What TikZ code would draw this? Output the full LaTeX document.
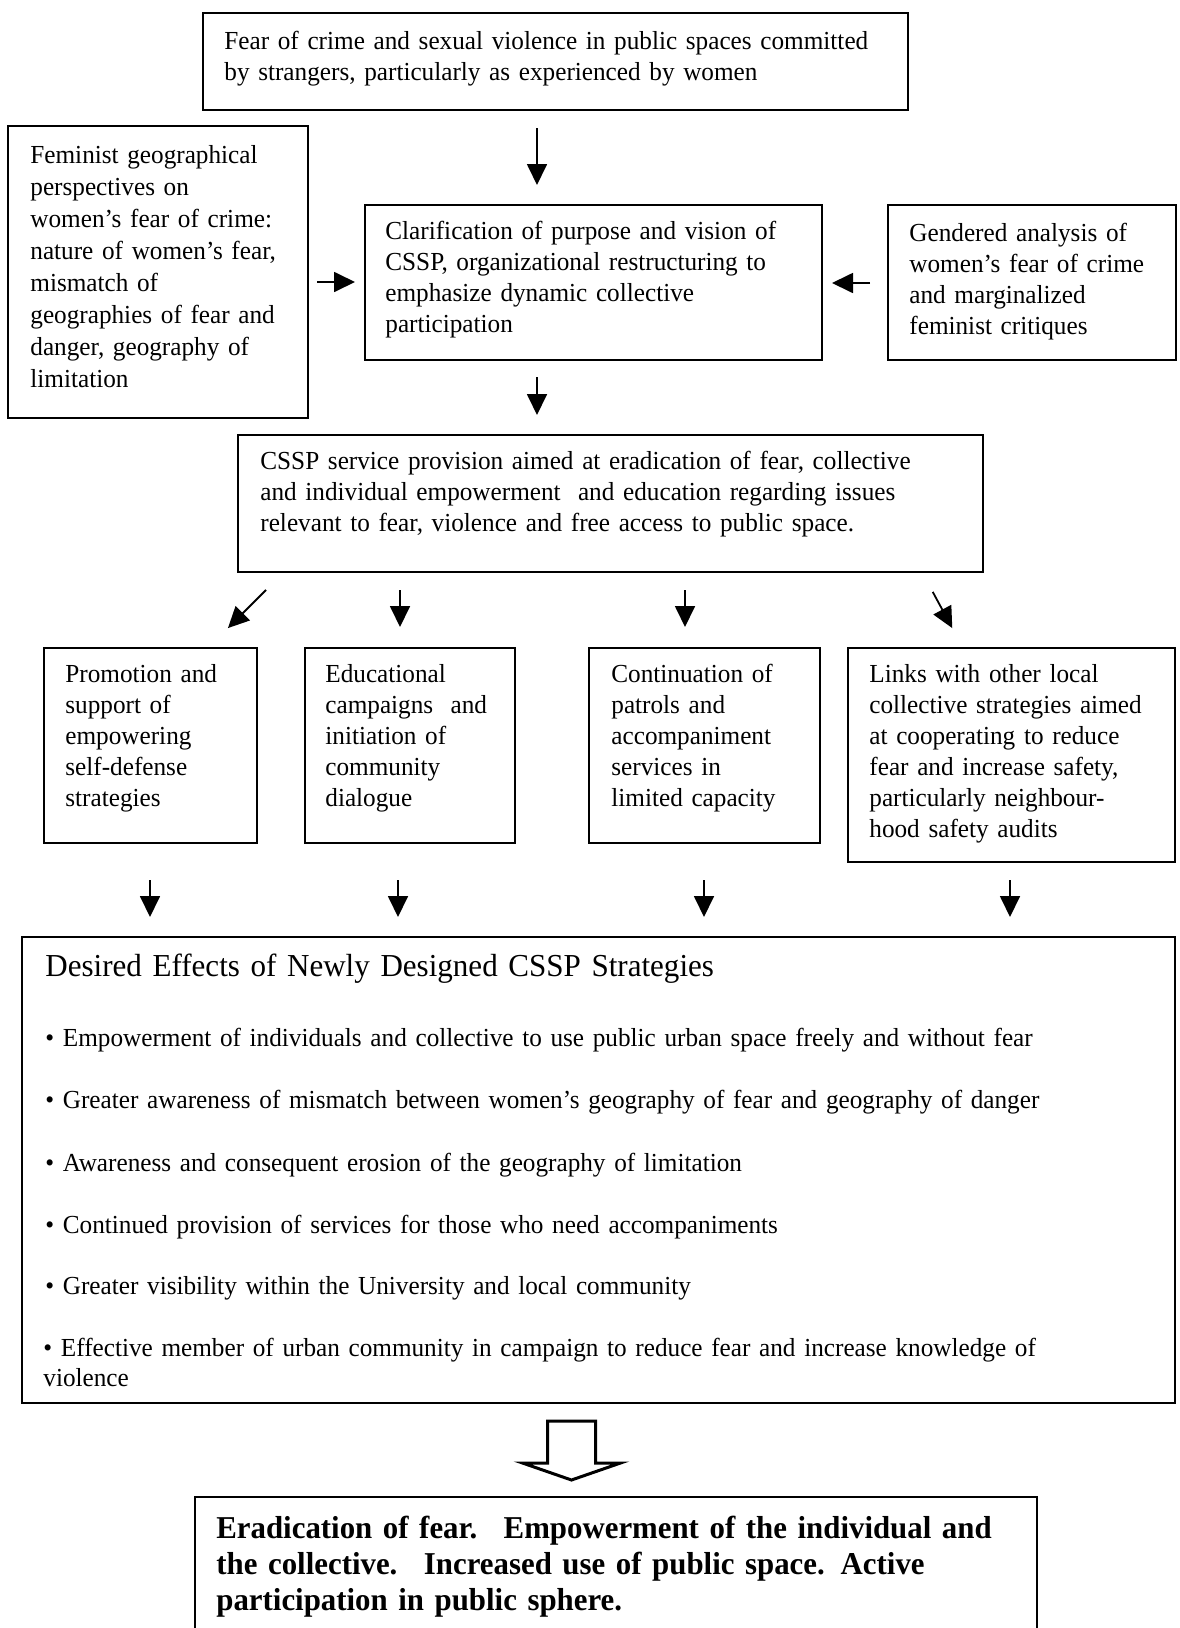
\documentclass[tikz,border=0pt]{standalone}
\usepackage{fontspec}
\setmainfont[FakeStretch=0.97]{Liberation Serif}
\usetikzlibrary{arrows.meta,fit}
\begin{document}
\begin{tikzpicture}[x=0.5pt,y=-0.5pt,
  box/.style={draw,line width=1.3pt,inner sep=0pt,outer sep=0pt},
  txt/.style={anchor=base west,inner sep=0pt,align=left,text width=560pt,
    font=\fontsize{13}{15.5}\selectfont},
  fem/.style={txt,font=\fontsize{13}{16}\selectfont},
  head/.style={txt,font=\fontsize{16}{18}\selectfont},
  bul/.style={txt,font=\fontsize{13}{15}\selectfont},
  fin/.style={txt,font=\fontsize{15.9}{18}\selectfont\bfseries},
  arr/.style={line width=0.9pt,-{Triangle[length=10.5pt,width=10pt]}},
  hollow/.style={draw,line width=1.5pt,fill=white,line join=miter}]
\useasboundingbox (0,0) rectangle (1179,1628);
\clip (0,0) rectangle (1179,1628);
% boxes
\node[box,fit={(203,13) (908,110)}] (top) {};
\node[box,fit={(8,126) (308,418)}] (fem) {};
\node[box,fit={(365,205) (822,360)}] (clar) {};
\node[box,fit={(888,205) (1176,360)}] (gend) {};
\node[box,fit={(238,435) (983,572)}] (cssp) {};
\node[box,fit={(44,648) (257,843)}] (prom) {};
\node[box,fit={(305,648) (515,843)}] (edu) {};
\node[box,fit={(589,648) (820,843)}] (cont) {};
\node[box,fit={(848,648) (1175,862)}] (links) {};
\node[box,fit={(22,937) (1175,1403)}] (des) {};
\node[box,fit={(195,1497) (1037,1650)}] (final) {};
% texts
\node[txt] (ttop) at (224,49) {Fear of crime and sexual violence in public spaces committed\\by strangers, particularly as experienced by women};
\node[fem] (tfem) at (30,163) {Feminist geographical\\perspectives on\\women's fear of crime:\\nature of women's fear,\\mismatch of\\geographies of fear and\\danger, geography of\\limitation};
\node[txt] (tclar) at (385,239) {Clarification of purpose and vision of\\CSSP, organizational restructuring to\\emphasize dynamic collective\\participation};
\node[txt] (tgend) at (909,241) {Gendered analysis of\\women's fear of crime\\and marginalized\\feminist critiques};
\node[txt] (tcssp) at (260,469) {CSSP service provision aimed at eradication of fear, collective\\and individual empowerment~ and education regarding issues\\relevant to fear, violence and free access to public space.};
\node[txt] (tprom) at (65,682) {Promotion and\\support of\\empowering\\self-defense\\strategies};
\node[txt] (tedu) at (325,682) {Educational\\campaigns~ and\\initiation of\\community\\dialogue};
\node[txt] (tcont) at (611,682) {Continuation of\\patrols and\\accompaniment\\services in\\limited capacity};
\node[txt] (tlinks) at (869,682) {Links with other local\\collective strategies aimed\\at cooperating to reduce\\fear and increase safety,\\particularly neighbour-\\hood safety audits};
\node[head] (thead) at (45,976) {Desired Effects of Newly Designed CSSP Strategies};
\node[bul] (b1) at (45,1046) {• Empowerment of individuals and collective to use public urban space freely and without fear};
\node[bul] (b2) at (45,1108) {• Greater awareness of mismatch between women's geography of fear and geography of danger};
\node[bul] (b3) at (45,1171) {• Awareness and consequent erosion of the geography of limitation};
\node[bul] (b4) at (45,1233) {• Continued provision of services for those who need accompaniments};
\node[bul] (b5) at (45,1294) {• Greater visibility within the University and local community};
\node[bul] (b6) at (43,1356) {• Effective member of urban community in campaign to reduce fear and increase knowledge of\\violence};
\node[fin] (tfin) at (216,1538) {Eradication of fear.~ Empowerment of the individual and\\the collective.~ Increased use of public space. Active\\participation in public sphere.};
% connectors
\draw[arr,shorten <=9pt,shorten >=10pt] (537,0 |- top.south) -- (537,0 |- clar.north);
\draw[arr,shorten <=4.5pt,shorten >=5pt] (fem.east |- 0,282) -- (clar.west |- 0,282);
\draw[arr,shorten <=9pt,shorten >=5pt] (gend.west |- 0,283) -- (clar.east |- 0,283);
\draw[arr,shorten <=8.5pt,shorten >=10pt] (537,0 |- clar.south) -- (537,0 |- cssp.north);
\draw[arr,shorten <=12.7pt,shorten >=14.1pt] (284,0 |- cssp.south) -- (208,0 |- prom.north);
\draw[arr,shorten <=9pt,shorten >=10.5pt] (400,0 |- cssp.south) -- (400,0 |- edu.north);
\draw[arr,shorten <=9pt,shorten >=10.5pt] (685,0 |- cssp.south) -- (685,0 |- cont.north);
\draw[arr,shorten <=11.3pt,shorten >=11.3pt] (922,0 |- cssp.south) -- (963,0 |- links.north);
\draw[arr,shorten <=18.5pt,shorten >=10pt] (150,0 |- prom.south) -- (150,0 |- des.north);
\draw[arr,shorten <=18.5pt,shorten >=10pt] (398,0 |- edu.south) -- (398,0 |- des.north);
\draw[arr,shorten <=18.5pt,shorten >=10pt] (704,0 |- cont.south) -- (704,0 |- des.north);
\draw[arr,shorten <=9pt,shorten >=10pt] (1010,0 |- links.south) -- (1010,0 |- des.north);
% hollow block arrow
\coordinate (ha) at (571.5,0 |- des.south);
\draw[hollow,shift={(ha)}] (-24,18) -- (24,18) -- (24,60) -- (49,60) -- (0,77) -- (-49,60) -- (-24,60) -- cycle;
\end{tikzpicture}
\end{document}
